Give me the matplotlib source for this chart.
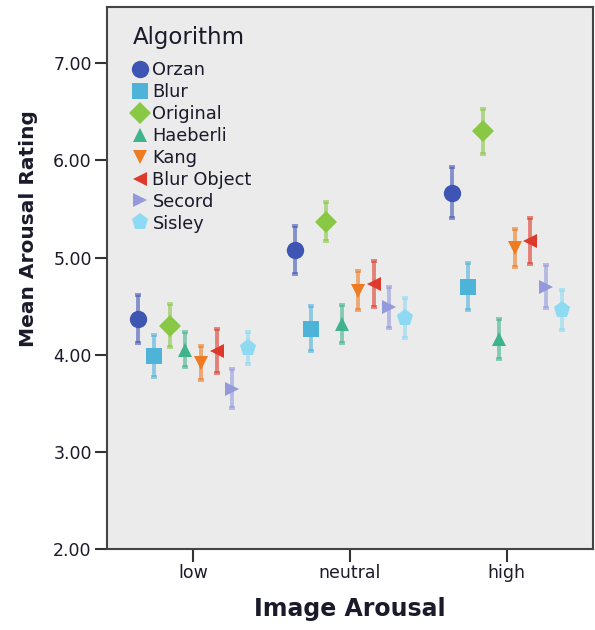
import numpy as np
import matplotlib
matplotlib.use("Agg")
import matplotlib.pyplot as plt
from matplotlib.lines import Line2D

# Data (means and error bar half-widths)
categories = ["low", "neutral", "high"]
algorithms = ["Orzan", "Blur", "Original", "Haeberli", "Kang", "Blur Object", "Secord", "Sisley"]

orzan_mean = [4.37, 5.08, 5.67]
blur_mean = [3.99, 4.27, 4.70]
original_mean = [4.30, 5.37, 6.30]
haeberli_mean = [4.05, 4.32, 4.16]
kang_mean = [3.92, 4.66, 5.10]
blur_object_mean = [4.04, 4.73, 5.17]
secord_mean = [3.65, 4.49, 4.70]
sisley_mean = [4.07, 4.38, 4.46]

orzan_err = [0.25, 0.245, 0.26]
blur_err = [0.215, 0.23, 0.24]
original_err = [0.22, 0.20, 0.23]
haeberli_err = [0.18, 0.195, 0.205]
kang_err = [0.175, 0.20, 0.195]
blur_object_err = [0.225, 0.24, 0.24]
secord_err = [0.20, 0.21, 0.22]
sisley_err = [0.165, 0.205, 0.205]

means = [orzan_mean, blur_mean, original_mean, haeberli_mean,
         kang_mean, blur_object_mean, secord_mean, sisley_mean]
errs = [orzan_err, blur_err, original_err, haeberli_err,
        kang_err, blur_object_err, secord_err, sisley_err]

colors = ["#3F55B4", "#4DB3D9", "#88C844", "#3FB38D",
          "#EE7A22", "#DD3A2C", "#9499DB", "#8DDAF2"]
markers = ["o", "s", "D", "^", "v", "<", ">", "p"]
msizes = [12.5, 12, 11, 10.5, 10.5, 10.5, 10.5, 12.5]

TEXT = "#1a1a2a"

fig = plt.figure(figsize=(5.95, 6.3), dpi=100)
ax = fig.add_axes([107 / 595, 81 / 630, 486 / 595, 542 / 630])
ax.set_facecolor("#EBEBEB")

x = np.arange(len(categories))
handles = []
for i, name in enumerate(algorithms):
    xi = x - 0.35 + 0.1 * i
    ax.errorbar(xi, means[i], yerr=errs[i], fmt="none", ecolor=colors[i],
                elinewidth=2.8, capsize=2, capthick=2.8, alpha=0.6, zorder=2)
    ax.plot(xi, means[i], linestyle="none", marker=markers[i], markersize=msizes[i],
            color=colors[i], markeredgewidth=0, zorder=3)
    handles.append(Line2D([], [], linestyle="none", marker=markers[i],
                          markersize=msizes[i], color=colors[i], markeredgewidth=0))

ax.set_xlim(-0.55, 2.55)
ax.set_ylim(2.0, 7.58)
ax.set_xticks(x)
ax.set_xticklabels(categories)
ax.set_yticks([2, 3, 4, 5, 6, 7])
ax.set_yticklabels(["%.2f" % v for v in [2, 3, 4, 5, 6, 7]])
ax.tick_params(axis="both", direction="out", length=9, width=1.5, color="#333333",
               labelsize=12.5, labelcolor=TEXT, pad=2)
for s in ax.spines.values():
    s.set_color("#444444")
    s.set_linewidth(1.5)

ax.set_xlabel("Image Arousal", fontsize=17, fontweight="bold", color=TEXT)
ax.xaxis.set_label_coords(0.5, -0.088)
ax.set_ylabel("Mean Arousal Rating", fontsize=14.5, fontweight="bold", color=TEXT)
ax.yaxis.set_label_coords(-0.142, 0.592)

# legend title drawn as plain text so the gap above the entries matches
ax.text(0.0535, 0.9446, "Algorithm", transform=ax.transAxes, fontsize=16.5,
        color=TEXT, ha="left", va="center")
leg = ax.legend(handles, algorithms, loc="upper left",
                bbox_to_anchor=(0.0514, 0.900), frameon=False, fontsize=12.8,
                handlelength=0.9, handletextpad=0.25,
                labelspacing=0.22, borderaxespad=0, borderpad=0)
for t in leg.get_texts():
    t.set_color(TEXT)

plt.savefig("out.png", dpi=100)
plt.close()
